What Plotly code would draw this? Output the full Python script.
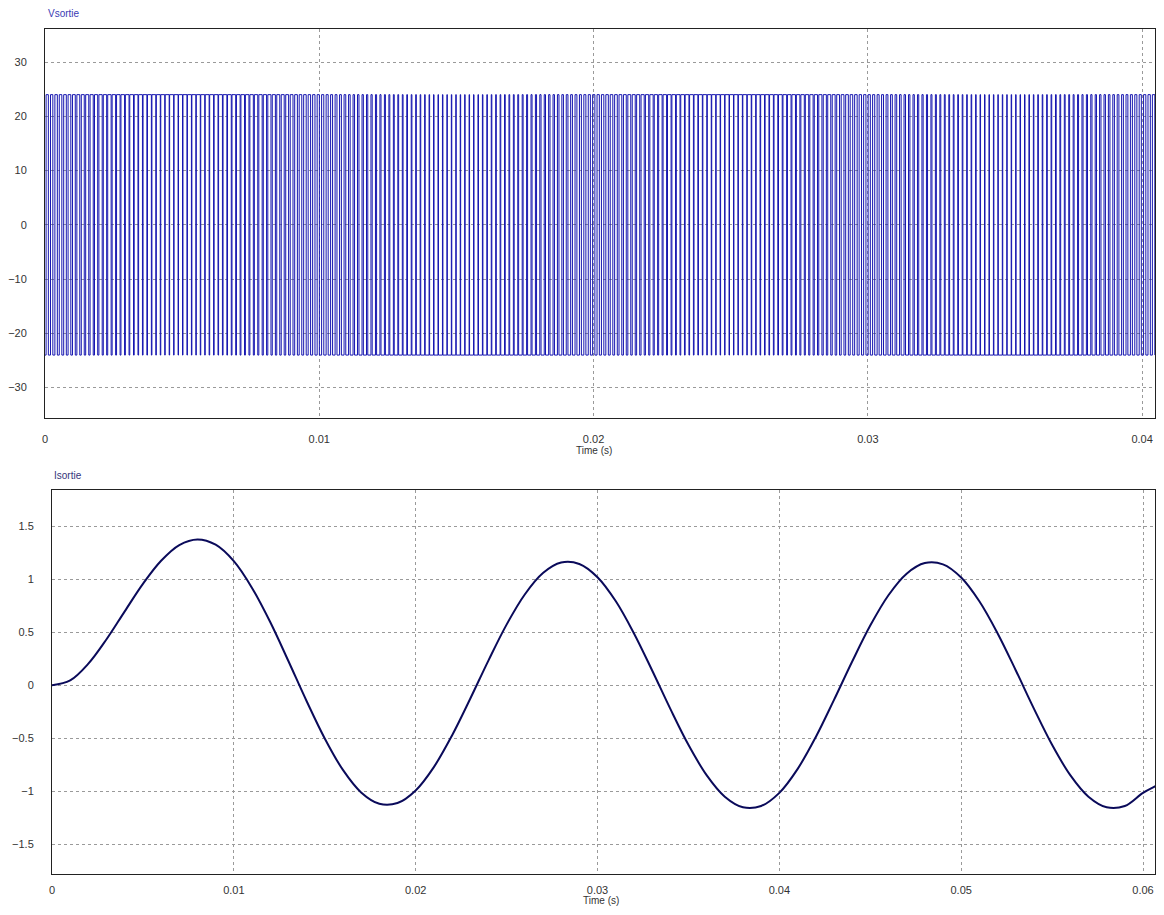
import numpy as np
import plotly.graph_objects as go

# ── Data ───────────────────────────────────────────────────────────────────────

# Vsortie: bipolar PWM, +/-24 V, one high pulse per carrier period
v_high = 24.0
v_low = -24.0
carrier_period_us = 162
pulse_width_us = [
    82, 86, 89, 93, 95, 99, 102, 106, 108, 112, 115, 117, 120, 122, 125, 127,
    129, 131, 134, 136, 137, 139, 140, 142, 142, 144, 144, 145, 146, 146, 146, 146,
    146, 145, 145, 144, 143, 142, 141, 140, 139, 137, 135, 133, 131, 129, 126, 124,
    121, 119, 116, 114, 110, 108, 105, 101, 98, 94, 92, 88, 85, 81, 79, 75,
    72, 68, 66, 62, 59, 55, 53, 49, 47, 45, 41, 39, 36, 34, 32, 30,
    28, 26, 25, 23, 22, 20, 20, 18, 17, 17, 16, 16, 16, 16, 16, 17,
    17, 18, 19, 20, 21, 23, 24, 26, 28, 30, 32, 34, 36, 38, 41, 45,
    46, 50, 52, 56, 58, 62, 64, 68, 71, 75, 77, 81, 84, 88, 91, 95,
    97, 101, 103, 107, 109, 113, 115, 119, 121, 123, 126, 128, 131, 133, 134, 136,
    138, 140, 140, 142, 143, 144, 145, 145, 146, 146, 146, 146, 145, 145, 144, 143,
    142, 141, 140, 139, 138, 136, 134, 132, 130, 128, 125, 123, 120, 118, 115, 113,
    110, 106, 103, 101, 97, 93, 91, 87, 84, 80, 77, 73, 71, 67, 64, 60,
    58, 54, 51, 49, 46, 44, 40, 38, 36, 34, 31, 29, 27, 25, 24, 22,
    21, 19, 18, 18, 17, 17, 16, 16, 16, 16, 17, 17, 18, 19, 19, 21,
    21, 23, 24, 26, 28, 30, 32, 34, 36, 40, 41, 45, 47, 51, 53, 57,
    59, 63, 65, 69, 72, 76, 78, 82, 85, 89,
]

# Isortie: output current read every 1 ms
i_time_s = [k / 1000 for k in range(61)] + [0.0607]
i_values = [
    0.00, 0.045, 0.203, 0.433, 0.696, 0.955, 1.173, 1.321, 1.374, 1.324,
    1.169, 0.917, 0.595, 0.228, -0.149, -0.502, -0.799, -1.011, -1.118, -1.111,
    -0.992, -0.772, -0.474, -0.128, 0.232, 0.571, 0.855, 1.057, 1.156, 1.143,
    1.018, 0.793, 0.490, 0.141, -0.221, -0.562, -0.848, -1.051, -1.151, -1.139,
    -1.015, -0.791, -0.490, -0.141, 0.221, 0.562, 0.848, 1.051, 1.151, 1.139,
    1.015, 0.791, 0.490, 0.141, -0.221, -0.562, -0.848, -1.051, -1.151, -1.139,
    -1.015, -0.95,
]

v_ticks = [-30, -20, -10, 0, 10, 20, 30]
i_ticks = [-1.5, -1, -0.5, 0, 0.5, 1, 1.5]

# ── Build PWM edges (centre-aligned pulses) ────────────────────────────────────

widths = np.array(pulse_width_us, dtype=float)
centres = (np.arange(len(widths)) + 0.5) * carrier_period_us
rise = (centres - widths / 2) * 1e-6
fall = (centres + widths / 2) * 1e-6
pwm_x = np.concatenate([[0.0], np.column_stack([rise, fall]).ravel()])
pwm_y = np.concatenate([[v_low], np.tile([v_high, v_low], len(widths))])

# page body margin is 8px: figure sits 8px in from the window corner
PAD = 8
W, H = 1164 - 2 * PAD, 915 - 2 * PAD


def px_x(p):
    return min(max((p - PAD) / W, 0.0), 1.0)


def px_y(p):
    return min(max(1 - (p - PAD) / H, 0.0), 1.0)


FONT = "Liberation Sans, Arial, sans-serif"
GRID = dict(showgrid=True, gridcolor="#9a9a9a", gridwidth=1, griddash="3px,3px",
            zeroline=False, showline=True, linecolor="#222222", linewidth=1,
            mirror=True, ticks="", tickfont=dict(size=11, color="#333333"),
            automargin=False, ticklabeloverflow="allow")

fig = go.Figure()

fig.add_trace(go.Scatter(
    x=pwm_x, y=pwm_y, mode="lines", line_shape="hv",
    line=dict(color="#1616b0", width=1),
    xaxis="x", yaxis="y", showlegend=False, hoverinfo="skip",
))

fig.add_trace(go.Scatter(
    x=i_time_s, y=i_values, mode="lines", line_shape="spline",
    line=dict(color="#0a0a5a", width=2),
    xaxis="x2", yaxis="y2", showlegend=False, hoverinfo="skip",
))

fig.update_layout(
    width=W, height=H,
    paper_bgcolor="white", plot_bgcolor="white",
    margin=dict(l=0, r=0, t=0, b=0),
    font=dict(family=FONT, color="#333333"),
    xaxis=dict(domain=[px_x(45), px_x(1155)], range=[0, 0.04047], dtick=0.01,
               anchor="y", ticklabelstandoff=11, **GRID),
    yaxis=dict(domain=[px_y(418), px_y(29)], range=[-35.6, 36.1],
               tickvals=v_ticks, anchor="x", ticklabelstandoff=15, **GRID),
    xaxis2=dict(domain=[px_x(52), px_x(1155)], range=[0, 0.06066], dtick=0.01,
                anchor="y2", ticklabelstandoff=6, **GRID),
    yaxis2=dict(domain=[px_y(874), px_y(490)], range=[-1.78, 1.84],
                tickvals=i_ticks, anchor="x2", ticklabelstandoff=15, **GRID),
    annotations=[
        dict(text="Vsortie", x=px_x(46), y=px_y(14), xref="paper", yref="paper",
             xanchor="left", yanchor="middle", showarrow=False,
             font=dict(size=10, color="#3a3ab4")),
        dict(text="Isortie", x=px_x(52), y=px_y(476), xref="paper", yref="paper",
             xanchor="left", yanchor="middle", showarrow=False,
             font=dict(size=10, color="#34347a")),
        dict(text="Time (s)", x=px_x(594), y=px_y(451), xref="paper", yref="paper",
             xanchor="center", yanchor="middle", showarrow=False,
             font=dict(size=10, color="#333333")),
        dict(text="Time (s)", x=px_x(601), y=px_y(900), xref="paper", yref="paper",
             xanchor="center", yanchor="middle", showarrow=False,
             font=dict(size=10, color="#333333")),
    ],
)

fig.write_html("out.html")
